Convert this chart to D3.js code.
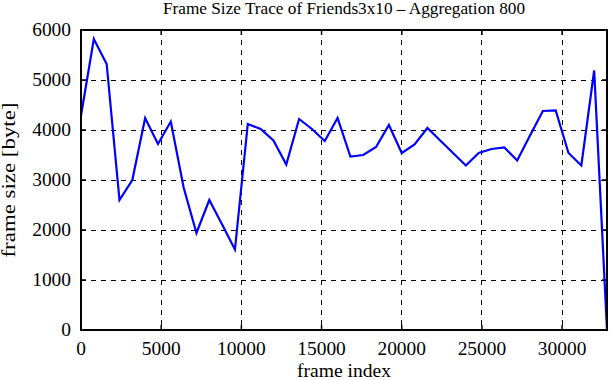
<!DOCTYPE html>
<html>
<head>
<meta charset="utf-8">
<script src="https://cdn.jsdelivr.net/npm/d3@7"></script>
<style>
  body { margin: 0; background: #fff; }
  svg { display: block; font-family: "Liberation Serif", "DejaVu Serif", serif; }
</style>
</head>
<body>
<div id="chart"></div>
<script>
const WIDTH = 611;
const HEIGHT = 380;

// aggregation window of 800 frames, one value per window
const STEP = 800;
const frameSizes = [
  4290, 5820, 5320, 2600, 3000, 4240, 3720, 4170, 2850, 1940,
  2600, 2110, 1610, 4120, 4020, 3790, 3310, 4220, 4020, 3780,
  4240, 3470, 3500, 3660, 4100, 3540, 3710, 4040, 3790, 3540,
  3290, 3540, 3620, 3650, 3390, 3890, 4380, 4390, 3540, 3290,
  5190, 0
];
const xTicks = [0, 5000, 10000, 15000, 20000, 25000, 30000];
const yTicks = [0, 1000, 2000, 3000, 4000, 5000, 6000];

const margin = { top: 30, right: 4, bottom: 50, left: 81 };
const innerW = WIDTH - margin.left - margin.right;
const innerH = HEIGHT - margin.top - margin.bottom;

const svg = d3.select('#chart')
  .append('svg')
  .attr('width', WIDTH)
  .attr('height', HEIGHT);

const x = d3.scaleLinear()
  .domain([0, STEP * (frameSizes.length - 1)])
  .range([0, innerW]);
const y = d3.scaleLinear().domain([0, 6000]).range([innerH, 0]);

const g = svg.append('g').attr('transform', `translate(${margin.left},${margin.top})`);

// dashed grid, crisp so it stays pure black like the original
const grid = g.append('g')
  .attr('stroke', '#000')
  .attr('stroke-width', 1)
  .attr('stroke-dasharray', '5,5')
  .attr('shape-rendering', 'crispEdges');

grid.selectAll('line.vx')
  .data(xTicks.filter((t) => t > 0))
  .join('line')
  .attr('class', 'vx')
  .attr('x1', (d) => x(d)).attr('x2', (d) => x(d))
  .attr('y1', 0).attr('y2', innerH);

grid.selectAll('line.hy')
  .data(yTicks.filter((t) => t > 0 && t < 6000))
  .join('line')
  .attr('class', 'hy')
  .attr('x1', 0).attr('x2', innerW)
  .attr('y1', (d) => y(d)).attr('y2', (d) => y(d));

// inward ticks on all four sides
const TICK = 5;
const tickG = g.append('g').attr('stroke', '#000').attr('stroke-width', 1.5);
xTicks.forEach((t) => {
  tickG.append('line').attr('x1', x(t)).attr('x2', x(t)).attr('y1', innerH).attr('y2', innerH - TICK);
  tickG.append('line').attr('x1', x(t)).attr('x2', x(t)).attr('y1', 0).attr('y2', TICK);
});
yTicks.forEach((t) => {
  tickG.append('line').attr('x1', 0).attr('x2', TICK).attr('y1', y(t)).attr('y2', y(t));
  tickG.append('line').attr('x1', innerW).attr('x2', innerW - TICK).attr('y1', y(t)).attr('y2', y(t));
});

// tick labels (the original glyphs are a bit wider than Liberation Serif)
g.append('g')
  .selectAll('text')
  .data(xTicks)
  .join('text')
  .attr('x', (d) => x(d))
  .attr('y', innerH + 25)
  .attr('text-anchor', 'middle')
  .attr('font-size', 18)
  .attr('textLength', (d) => String(d).length * 9.7)
  .attr('lengthAdjust', 'spacingAndGlyphs')
  .text((d) => d);

g.append('g')
  .selectAll('text')
  .data(yTicks)
  .join('text')
  .attr('x', -10)
  .attr('y', (d) => y(d) + 6)
  .attr('text-anchor', 'end')
  .attr('font-size', 18)
  .attr('textLength', (d) => String(d).length * 9.7)
  .attr('lengthAdjust', 'spacingAndGlyphs')
  .text((d) => d);

// data line
const line = d3.line()
  .x((d, i) => x(i * STEP))
  .y((d) => y(d));

g.append('path')
  .datum(frameSizes)
  .attr('d', line)
  .attr('fill', 'none')
  .attr('stroke', '#0000ff')
  .attr('stroke-width', 2.2)
  .attr('stroke-linejoin', 'miter');

// frame
g.append('rect')
  .attr('width', innerW).attr('height', innerH)
  .attr('fill', 'none')
  .attr('stroke', '#000')
  .attr('stroke-width', 2);

// titles
svg.append('text')
  .attr('x', margin.left + innerW / 2)
  .attr('y', 14)
  .attr('text-anchor', 'middle')
  .attr('font-size', 17)
  .attr('textLength', 362)
  .attr('lengthAdjust', 'spacingAndGlyphs')
  .text('Frame Size Trace of Friends3x10 \u2013 Aggregation 800');

svg.append('text')
  .attr('x', margin.left + innerW / 2)
  .attr('y', 377)
  .attr('text-anchor', 'middle')
  .attr('font-size', 18)
  .attr('textLength', 94)
  .attr('lengthAdjust', 'spacingAndGlyphs')
  .text('frame index');

svg.append('text')
  .attr('transform', `translate(15,${margin.top + innerH / 2}) rotate(-90)`)
  .attr('text-anchor', 'middle')
  .attr('font-size', 18)
  .attr('textLength', 155)
  .attr('lengthAdjust', 'spacingAndGlyphs')
  .text('frame size [byte]');
</script>
</body>
</html>
